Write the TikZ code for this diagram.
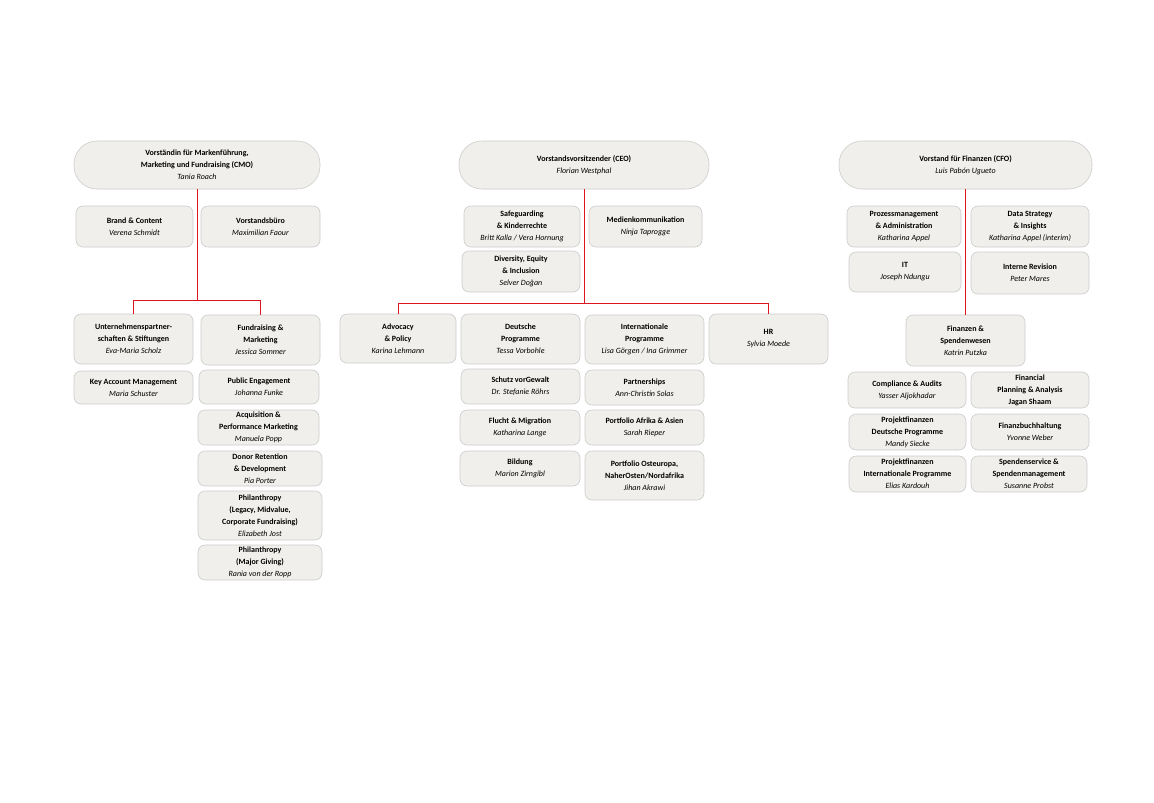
\documentclass[tikz,border=0pt]{standalone}
\usepackage{fontspec}
\setmainfont{Carlito}
\begin{document}
\begin{tikzpicture}[x=1pt,y=-1pt,
  box/.style={draw=black!20,fill=boxfill,rounded corners=7pt,align=center,inner sep=0pt,
    font=\fontsize{8}{12}\selectfont,line width=0.6pt},
  pill/.style={box,rounded corners=23pt},
  red/.style={draw=linered,line width=1pt}]
\definecolor{boxfill}{HTML}{F0EFEB}
\definecolor{linered}{HTML}{E0141E}
\newcommand\ob[7][box]{\node[#1,minimum width={#4pt-#3pt},minimum height={#6pt-#5pt}] (#2) at ({(#3+#4)/2},{(#5+#6)/2}) {#7};}
\useasboundingbox (0,0) rectangle (1154,803);
% CMO
\ob[pill]{cmo}{74}{320}{141}{189}{\textbf{Vorständin für Markenführung,}\\\textbf{Marketing und Fundraising (CMO)}\\\textit{Tania Roach}}
\ob{brand}{76}{193}{206}{247}{\textbf{Brand \& Content}\\\textit{Verena Schmidt}}
\ob{vb}{201}{320}{206}{247}{\textbf{Vorstandsbüro}\\\textit{Maximilian Faour}}
\ob{unt}{74}{193}{314}{364}{\textbf{Unternehmenspartner-}\\\textbf{schaften \& Stiftungen}\\\textit{Eva-Maria Scholz}}
\ob{fun}{201}{320}{315}{365}{\textbf{Fundraising \&}\\\textbf{Marketing}\\\textit{Jessica Sommer}}
\ob{kam}{74}{193}{371}{404}{\textbf{Key Account Management}\\\textit{Maria Schuster}}
\ob{pe}{199}{319}{370}{404}{\textbf{Public Engagement}\\\textit{Johanna Funke}}
\ob{acq}{198}{319}{410}{445}{\textbf{Acquisition \&}\\\textbf{Performance Marketing}\\\textit{Manuela Popp}}
\ob{don}{198}{322}{451}{486}{\textbf{Donor Retention}\\\textbf{\& Development}\\\textit{Pia Porter}}
\ob{phi}{198}{322}{491}{540}{\textbf{Philanthropy}\\\textbf{(Legacy, Midvalue,}\\\textbf{Corporate Fundraising)}\\\textit{Elizabeth Jost}}
\ob{phm}{198}{322}{545}{580}{\textbf{Philanthropy}\\\textbf{(Major Giving)}\\\textit{Rania von der Ropp}}
\coordinate (cmoj) at (197,300);
\draw[red] (cmo.south) -- (cmoj);
\draw[red] (cmoj) -| (unt.north);
\draw[red] (cmoj) -| (fun.north);
% CEO
\ob[pill]{ceo}{459}{709}{141}{189}{\textbf{Vorstandsvorsitzender (CEO)}\\\textit{Florian Westphal}}
\ob{saf}{464}{580}{206}{247}{\textbf{Safeguarding}\\\textbf{\& Kinderrechte}\\\textit{Britt Kalla / Vera Hornung}}
\ob{med}{589}{702}{206}{247}{\textbf{Medienkommunikation}\\\textit{Ninja Taprogge}}
\ob{dei}{462}{580}{251}{292}{\textbf{Diversity, Equity}\\\textbf{\& Inclusion}\\\textit{Selver Doğan}}
\ob{adv}{340}{456}{314}{363}{\textbf{Advocacy}\\\textbf{\& Policy}\\\textit{Karina Lehmann}}
\ob{dp}{461}{580}{314}{364}{\textbf{Deutsche}\\\textbf{Programme}\\\textit{Tessa Vorbohle}}
\ob{ip}{585}{704}{315}{364}{\textbf{Internationale}\\\textbf{Programme}\\\textit{Lisa Görgen / Ina Grimmer}}
\ob{hr}{709}{828}{314}{364}{\textbf{HR}\\\textit{Sylvia Moede}}
\ob{sch}{461}{580}{369}{404}{\textbf{Schutz vorGewalt}\\\textit{Dr. Stefanie Röhrs}}
\ob{par}{585}{704}{370}{405}{\textbf{Partnerships}\\\textit{Ann-Christin Solas}}
\ob{flu}{460}{580}{410}{445}{\textbf{Flucht \& Migration}\\\textit{Katharina Lange}}
\ob{paf}{585}{704}{410}{445}{\textbf{Portfolio Afrika \& Asien}\\\textit{Sarah Rieper}}
\ob{bil}{460}{580}{451}{486}{\textbf{Bildung}\\\textit{Marion Zirngibl}}
\ob{pos}{585}{704}{451}{500}{\textbf{Portfolio Osteuropa,}\\\textbf{NaherOsten/Nordafrika}\\\textit{Jihan Akrawi}}
\coordinate (ceoj) at (584,303);
\draw[red] (ceo.south) -- (ceoj);
\draw[red] (ceoj) -| (adv.north);
\draw[red] (ceoj) -| (hr.north);
% CFO
\ob[pill]{cfo}{839}{1092}{141}{189}{\textbf{Vorstand für Finanzen (CFO)}\\\textit{Luis Pabón Ugueto}}
\ob{pro}{847}{961}{206}{247}{\textbf{Prozessmanagement}\\\textbf{\& Administration}\\\textit{Katharina Appel}}
\ob{dsi}{971}{1089}{206}{247}{\textbf{Data Strategy}\\\textbf{\& Insights}\\\textit{Katharina Appel (interim)}}
\ob{it}{849}{961}{252}{292}{\textbf{IT}\\\textit{Joseph Ndungu}}
\ob{ir}{971}{1089}{252}{294}{\textbf{Interne Revision}\\\textit{Peter Mares}}
\ob{fin}{906}{1025}{315}{366}{\textbf{Finanzen \&}\\\textbf{Spendenwesen}\\\textit{Katrin Putzka}}
\ob{com}{848}{966}{372}{408}{\textbf{Compliance \& Audits}\\\textit{Yasser Aljokhadar}}
\ob{fpa}{971}{1089}{372}{408}{\textbf{Financial}\\\textbf{Planning \& Analysis}\\\textbf{Jagan Shaam}}
\ob{pfd}{849}{966}{414}{450}{\textbf{Projektfinanzen}\\\textbf{Deutsche Programme}\\\textit{Mandy Siecke}}
\ob{fb}{971}{1089}{414}{450}{\textbf{Finanzbuchhaltung}\\\textit{Yvonne Weber}}
\ob{pfi}{849}{966}{456}{492}{\textbf{Projektfinanzen}\\\textbf{Internationale Programme}\\\textit{Elias Kardouh}}
\ob{ss}{971}{1087}{456}{492}{\textbf{Spendenservice \&}\\\textbf{Spendenmanagement}\\\textit{Susanne Probst}}
\draw[red] (cfo.south) -- (fin.north);
\end{tikzpicture}
\end{document}
